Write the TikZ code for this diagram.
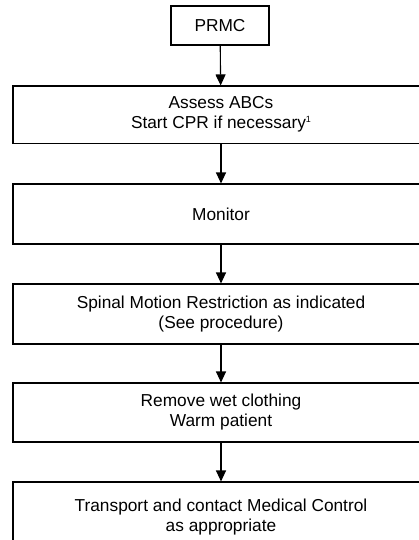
\documentclass[tikz,border=0pt]{standalone}
\usepackage{fontspec}
\setmainfont{Liberation Sans}
\usetikzlibrary{arrows.meta}
\begin{document}
\begin{tikzpicture}[x=1pt,y=-1pt,
  box/.style={draw, line width=1.1pt, align=center, inner sep=0pt, fill=white},
  flow/.style={-{Triangle[length=11pt,width=10pt]}, line width=1.1pt},
  font=\fontsize{17.3}{20}\selectfont]
\useasboundingbox (0,0) rectangle (419,540);
\begin{scope}
\clip (0,0) rectangle (419,540);
\node[box, minimum width=98pt, minimum height=39pt] (prmc) at (220,25.5) {PRMC};
\node[box, minimum width=416pt, minimum height=57.5pt] (abc) at (221,114.75)
  {Assess ABCs\\Start CPR if necessary\raisebox{6pt}{\fontsize{9}{9}\selectfont 1}};
\node[box, minimum width=416pt, minimum height=60pt] (mon) at (221,214) {Monitor};
\node[box, minimum width=416pt, minimum height=60pt] (smr) at (221,314)
  {Spinal Motion Restriction as indicated\\(See procedure)};
\node[box, minimum width=416pt, minimum height=59pt] (warm) at (221,412.5)
  {Remove wet clothing\\Warm patient};
\node[box, minimum width=416pt, minimum height=70pt] (trans) at (221,517)
  {Transport and contact Medical Control\\as appropriate};
\draw[flow] (prmc) -- (abc);
\draw[flow] (abc) -- (mon);
\draw[flow] (mon) -- (smr);
\draw[flow] (smr) -- (warm);
\draw[flow] (warm) -- (trans);
\end{scope}
\end{tikzpicture}
\end{document}
